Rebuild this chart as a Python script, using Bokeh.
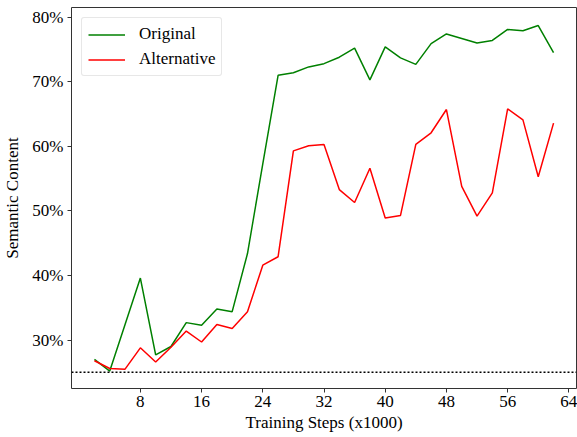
from bokeh.plotting import figure
from bokeh.models import Range1d, FixedTicker, PrintfTickFormatter, Span, Legend, LegendItem
from bokeh.embed import file_html
from bokeh.resources import INLINE

# Training steps (thousands) and semantic content (%) per run
steps = [2, 4, 6, 8, 10, 12, 14, 16, 18, 20, 22, 24, 26, 28, 30, 32,
         34, 36, 38, 40, 42, 44, 46, 48, 50, 52, 54, 56, 58, 60, 62]
original = [27.0, 25.2, 32.4, 39.6, 27.7, 29.0, 32.7, 32.3, 34.8, 34.4, 43.4, 57.3,
            71.0, 71.4, 72.3, 72.8, 73.8, 75.2, 70.3, 75.4, 73.7, 72.7, 75.9, 77.4,
            76.7, 76.0, 76.4, 78.1, 77.9, 78.7, 74.5]
alternative = [26.8, 25.6, 25.5, 28.8, 26.6, 28.9, 31.4, 29.7, 32.4, 31.8, 34.4, 41.6,
               42.9, 59.3, 60.1, 60.3, 53.3, 51.3, 56.6, 48.9, 49.3, 60.3, 62.1, 65.7,
               53.8, 49.2, 52.8, 65.8, 64.1, 55.3, 63.6]
chance_level = 25.0
x_ticks = [8, 16, 24, 32, 40, 48, 56, 64]
y_ticks = [30, 40, 50, 60, 70, 80]

FONT = "Liberation Serif"

p = figure(width=577, height=437, output_backend="svg", toolbar_location=None,
           x_range=Range1d(-1, 65), y_range=Range1d(22.5, 81.5),
           min_border_left=69, min_border_right=1, min_border_top=7, min_border_bottom=49)

p.xgrid.visible = False
p.ygrid.visible = False
p.outline_line_color = "#333333"
p.outline_line_width = 1
p.background_fill_color = "white"
p.border_fill_color = "white"

for ax in (p.xaxis[0], p.yaxis[0]):
    ax.axis_line_color = None
    ax.major_tick_line_color = "#333333"
    ax.major_tick_out = 4
    ax.major_tick_in = 0
    ax.minor_tick_line_color = None
    ax.major_label_text_font = FONT
    ax.major_label_text_font_size = "17px"
    ax.major_label_text_color = "black"
    ax.axis_label_text_font = FONT
    ax.axis_label_text_font_size = "17px"
    ax.axis_label_text_font_style = "normal"
    ax.axis_label_text_color = "black"

p.xaxis.ticker = FixedTicker(ticks=x_ticks)
p.yaxis.ticker = FixedTicker(ticks=y_ticks)
p.yaxis.formatter = PrintfTickFormatter(format="%d%%")
p.xaxis.axis_label = "Training Steps (x1000)"
p.yaxis.axis_label = "Semantic Content"
p.xaxis.major_label_standoff = 3
p.yaxis.major_label_standoff = 4
p.xaxis.axis_label_standoff = 3
p.yaxis.axis_label_standoff = 7

p.add_layout(Span(location=chance_level, dimension="width", line_color="black",
                  line_width=1.5, line_dash="2 2"))

r1 = p.line(steps, original, line_color="#008000", line_width=1.5)
r2 = p.line(steps, alternative, line_color="#ff0000", line_width=1.5)

legend = Legend(items=[LegendItem(label="Original", renderers=[r1]),
                       LegendItem(label="Alternative", renderers=[r2])],
                location="top_left")
legend.margin = 10
legend.padding = 6
legend.spacing = 5
legend.glyph_width = 37
legend.glyph_height = 19
legend.label_height = 19
legend.label_standoff = 14
legend.label_text_font = FONT
legend.label_text_font_size = "17px"
legend.label_text_color = "black"
legend.border_line_color = "#d0d0d0"
legend.border_line_width = 1
legend.border_radius = 3
legend.background_fill_alpha = 0.8
p.add_layout(legend)

open("out.html", "w").write(file_html(p, INLINE))
